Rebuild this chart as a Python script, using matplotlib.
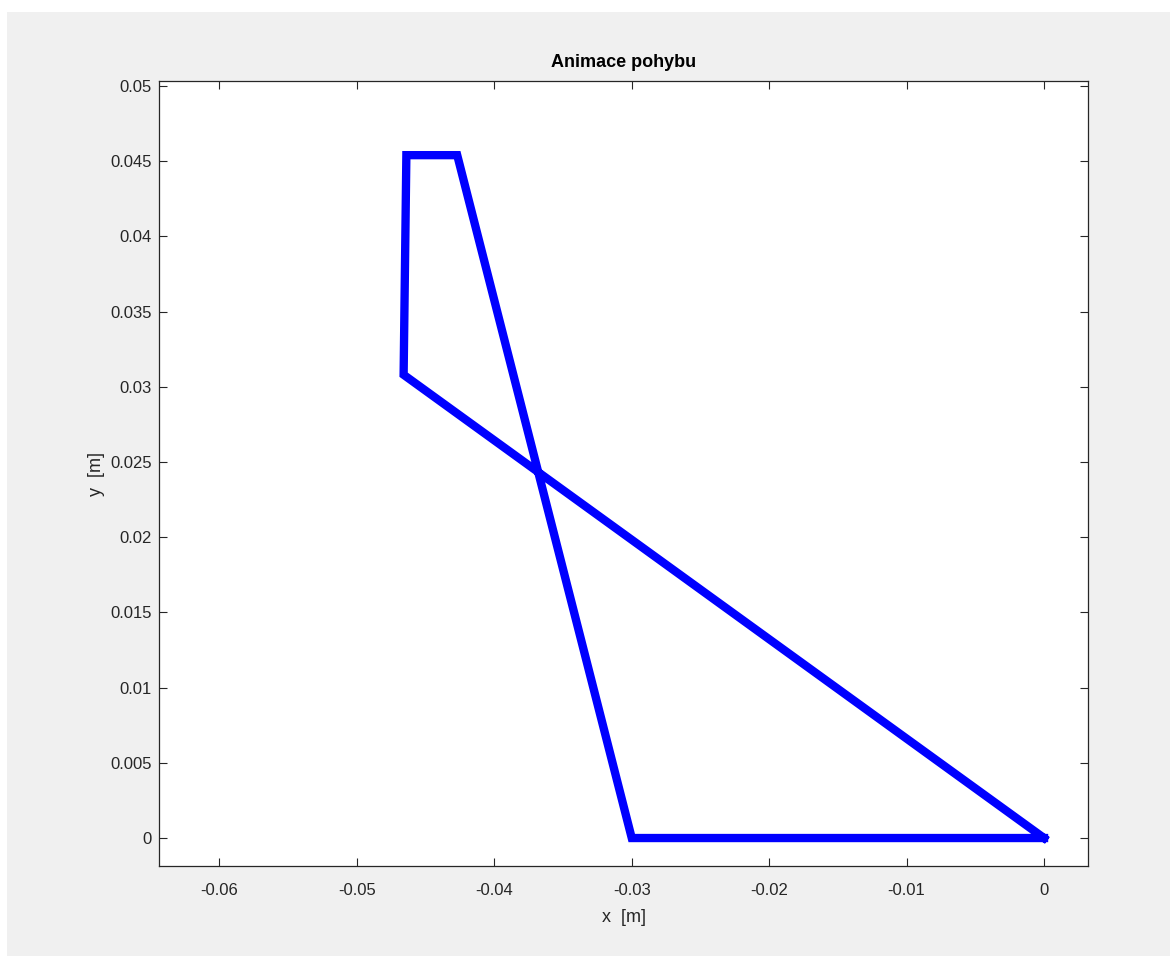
import matplotlib
matplotlib.use("Agg")
import matplotlib.pyplot as plt
from matplotlib.patches import Rectangle

plt.rcParams['font.family'] = ['Liberation Sans', 'DejaVu Sans']

# polygon path of the mechanism
x = [0.0, -0.0300, -0.0427, -0.0464, -0.0466, 0.0]
y = [0.0, 0.0, 0.0454, 0.0454, 0.0308, 0.0]

xticks = [-0.06, -0.05, -0.04, -0.03, -0.02, -0.01, 0]
xtick_labels = ["-0.06", "-0.05", "-0.04", "-0.03", "-0.02", "-0.01", "0"]
yticks = [0, 0.005, 0.01, 0.015, 0.02, 0.025, 0.03, 0.035, 0.04, 0.045, 0.05]
ytick_labels = ["0", "0.005", "0.01", "0.015", "0.02", "0.025", "0.03",
                "0.035", "0.04", "0.045", "0.05"]

fig = plt.figure(figsize=(11.7, 9.56), dpi=100, facecolor="white")
# gray matlab style window background
fig.patches.append(Rectangle((7 / 1170, 0), 1, 1 - 12 / 956, transform=fig.transFigure,
                             facecolor="#f0f0f0", edgecolor="none", zorder=-1))

ax = fig.add_axes([159 / 1170, 1 - 866 / 956, 929 / 1170, 785 / 956])
ax.plot(x, y, color="#0000ff", linewidth=6, solid_joinstyle="miter")

ax.set_xlim(-0.0644, 0.0032)
ax.set_ylim(-0.00186, 0.05033)
ax.set_xticks(xticks)
ax.set_xticklabels(xtick_labels)
ax.set_yticks(yticks)
ax.set_yticklabels(ytick_labels)

dark = "#262626"
ax.tick_params(direction="in", length=6, width=0.8, top=True, right=True,
               labelsize=12, colors=dark)
ax.tick_params(axis="x", pad=12)
ax.tick_params(axis="y", pad=5)
for s in ax.spines.values():
    s.set_color(dark)
    s.set_linewidth(0.9)

ax.set_title("Animace pohybu", fontsize=13, fontweight="bold", color="black", pad=10)
ax.set_xlabel("x  [m]", fontsize=13, color=dark, labelpad=8)
ax.set_ylabel("y  [m]", fontsize=13, color=dark, labelpad=4)

fig.savefig("out.png", dpi=100, facecolor=fig.get_facecolor())
